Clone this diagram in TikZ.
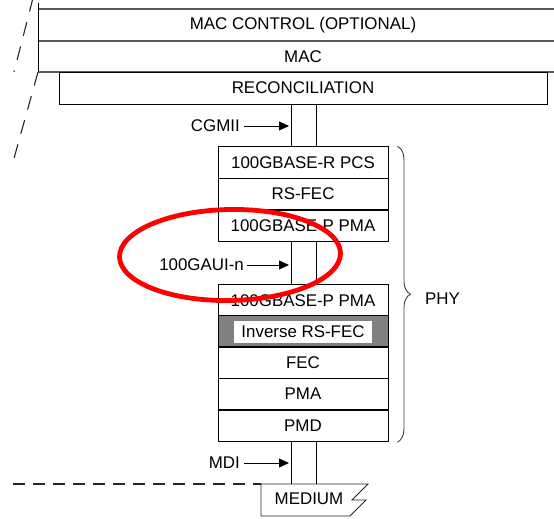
\documentclass[tikz,border=0pt]{standalone}
\usepackage{fontspec}
\setmainfont{Liberation Sans}
\usetikzlibrary{arrows.meta,decorations.pathreplacing}

\begin{document}
\begin{tikzpicture}[x=1pt,y=-1pt,
  font=\fontsize{16.9}{18}\selectfont,
  layer/.style={draw=black, line width=0.9pt, minimum width=170pt,
    minimum height=31.5pt, inner sep=0pt},
  wire/.style={line width=0.9pt},
  lbl/.style={inner sep=0pt, anchor=east},
  pointer/.style={line width=0.8pt, shorten >=2pt, -{Triangle[length=10pt,width=9pt]}},
  cut/.style={dash pattern=on 14pt off 11pt, line width=1.1pt, draw=black!85},
  upper/.style={line width=1.3pt, draw=black!65}]
\useasboundingbox (0,0) rectangle (554,519);

% MAC sublayers, running off the right edge
\draw[upper] (38,9) -- (554,9);
\draw[upper] (38,41) -- (554,41);
\draw[upper] (38,72) -- (554,72);
\draw[line width=1pt] (38,3) -- (38,72);
\node (macctl) at (303,25.5) {MAC CONTROL (OPTIONAL)};
\node (mac) at (303,57) {MAC};
\node[draw, line width=0.9pt, minimum width=488pt, minimum height=32pt, inner sep=0pt]
  (rec) at (303,88) {RECONCILIATION};

% dashed links to the reference model on the left
\draw[cut] (33,-2) -- (14,72);
\draw[cut] (38,72) -- (13,162);

% PCS / FEC / PMA stack
\node[layer] (pcs)   at (303,162.5) {100GBASE-R PCS};
\node[layer] (rsfec) at (303,194)   {RS-FEC};
\node[layer] (pmaa)  at (303,226)   {100GBASE-P PMA};

\node[layer] (pmab)  at (303,300.5) {100GBASE-P PMA};
\node[layer, fill=black!50] (inv) at (303,331.5) {};
\node[fill=white, minimum width=138pt, minimum height=22pt, inner sep=0pt]
  (invtxt) at (inv.center) {Inverse RS-FEC};
\node[layer] (fec)   at (303,362.5) {FEC};
\node[layer] (pma)   at (303,394)   {PMA};
\node[layer] (pmd)   at (303,426)   {PMD};

% interface wires
\coordinate (wl) at (291,0);
\coordinate (wr) at (316,0);
\draw[wire] (wl |- rec.south) -- (wl |- pcs.north);
\draw[wire] (wr |- rec.south) -- (wr |- pcs.north);
\draw[wire] (wl |- pmaa.south) -- (wl |- pmab.north);
\draw[wire] (wr |- pmaa.south) -- (wr |- pmab.north);

% medium
\coordinate (medtl) at (261,484);
\draw[line width=0.9pt, draw=black!85] (medtl) -- (368,484) -- (352,500) -- (366,500)
  -- (350,516) -- (261,516) -- cycle;
\node (medium) at (309,499) {MEDIUM};
\draw[wire] (wl |- pmd.south) -- (wl |- medtl);
\draw[wire] (wr |- pmd.south) -- (wr |- medtl);
\draw[cut, dash pattern=on 12pt off 8pt] (13,484) -- (medtl);

% interface labels
\node[lbl] (cgmii) at (240,126) {CGMII};
\draw[pointer] ([xshift=4pt]cgmii.east) -- (wl |- cgmii.east);
\node[lbl] (gaui) at (244,265) {100GAUI-n};
\draw[pointer] ([xshift=3pt]gaui.east) -- (wl |- gaui.east);
\node[lbl] (mdi) at (240,463) {MDI};
\draw[pointer] ([xshift=4pt]mdi.east) -- (wl |- mdi.east);

% PHY brace
\draw[decorate, decoration={brace, amplitude=13pt}, line width=0.9pt, draw=black!75]
  ([xshift=9pt]pcs.north east) -- ([xshift=9pt]pmd.south east);
\node[anchor=west, inner sep=0pt] (phy) at (425,299) {PHY};

% highlight
\draw[red, line width=4.8pt, rotate around={1:(230,255)}]
  (230,255) ellipse [x radius=110.5, y radius=45.5];
\end{tikzpicture}
\end{document}
